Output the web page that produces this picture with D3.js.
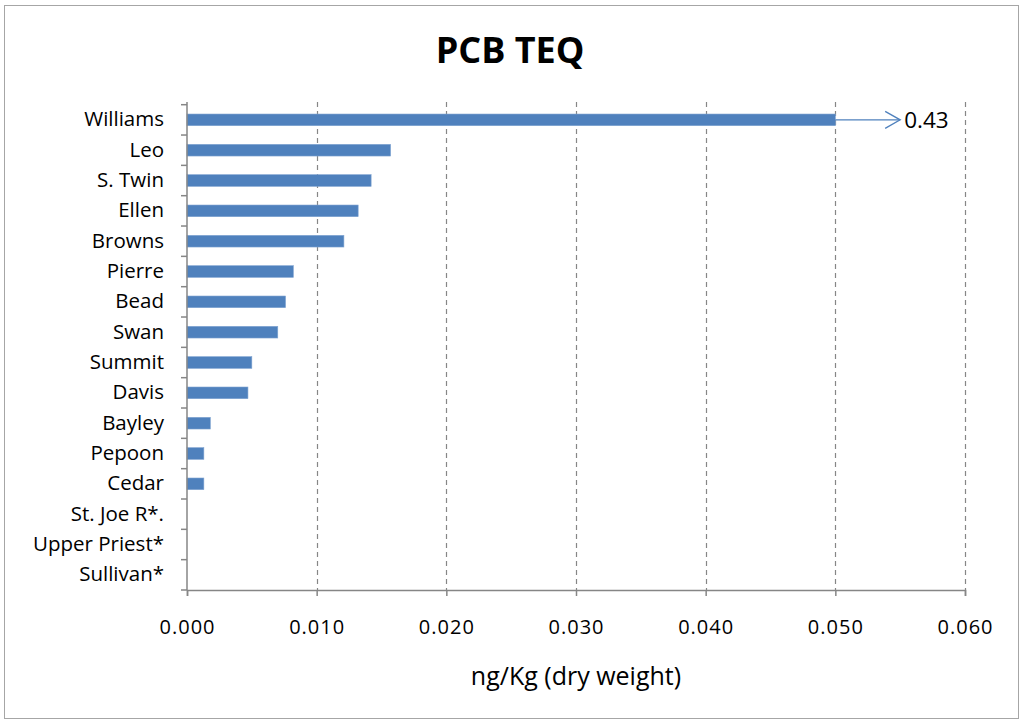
<!DOCTYPE html>
<html>
<head>
<meta charset="utf-8">
<script src="https://cdn.jsdelivr.net/npm/d3@7"></script>
<style>
  html, body { margin: 0; padding: 0; background: #fff; }
  svg { display: block; font-family: "Open Sans", sans-serif; }
</style>
</head>
<body>
<svg id="chart" width="1024" height="722"></svg>
<script>
const categories = ["Williams","Leo","S. Twin","Ellen","Browns","Pierre","Bead","Swan","Summit","Davis","Bayley","Pepoon","Cedar","St. Joe R*.","Upper Priest*","Sullivan*"];
const values = [0.43, 0.0157, 0.0142, 0.0132, 0.0121, 0.0082, 0.0076, 0.0070, 0.0050, 0.0047, 0.0018, 0.0013, 0.0013, 0, 0, 0];
const xTicks = [0, 0.01, 0.02, 0.03, 0.04, 0.05, 0.06];
const barCap = 0.05;          // bars beyond this are broken with an arrow
const arrowEnd = 0.055;
const chartTitle = "PCB TEQ";
const xTitle = "ng/Kg (dry weight)";

const svg = d3.select("#chart");
const margin = {left: 187, right: 1024 - 965, top: 104.7, bottom: 722 - 590};
const W = 1024, H = 722;

// outer border
svg.append("rect").attr("x", 4.5).attr("y", 5.5).attr("width", 1014).attr("height", 713)
  .attr("fill", "#fff").attr("stroke", "#a6a6a6").attr("stroke-width", 1);

const x = d3.scaleLinear().domain([0, 0.06]).range([margin.left, W - margin.right]);
const y = d3.scaleBand().domain(categories).range([margin.top, H - margin.bottom]).padding(0);
const barH = y.bandwidth() * 0.385;

// gridlines
svg.append("g").selectAll("line").data(xTicks.filter(d => d > 0)).join("line")
  .attr("x1", d => Math.round(x(d)) + 0.5).attr("x2", d => Math.round(x(d)) + 0.5)
  .attr("y1", 102).attr("y2", H - margin.bottom)
  .attr("stroke", "#868686").attr("stroke-width", 1.2).attr("stroke-dasharray", "5,4");

// bars
const fmt = d3.format(".3f");
svg.append("g").selectAll("rect").data(categories.map((c, i) => ({c, v: values[i]}))).join("rect")
  .filter(d => d.v > 0)
  .attr("x", x(0))
  .attr("y", d => y(d.c) + (y.bandwidth() - barH) / 2)
  .attr("width", d => x(Math.min(d.v, barCap)) - x(0))
  .attr("height", barH)
  .attr("fill", "#4F81BD").attr("stroke", "#7FA3D1").attr("stroke-width", 0.6);

// break arrow for values beyond cap
const over = categories.map((c, i) => ({c, v: values[i]})).filter(d => d.v > barCap);
const ag = svg.append("g");
over.forEach(d => {
  const cy = y(d.c) + y.bandwidth() / 2;
  const x0 = x(barCap), x1 = x(arrowEnd);
  ag.append("line").attr("x1", x0).attr("x2", x1).attr("y1", cy).attr("y2", cy)
    .attr("stroke", "#4F81BD").attr("stroke-width", 1.3);
  ag.append("path").attr("d", `M${x1 - 15},${cy - 8.5}L${x1},${cy}L${x1 - 15},${cy + 8.5}`)
    .attr("fill", "none").attr("stroke", "#4F81BD").attr("stroke-width", 1.3);
  ag.append("text").attr("x", x1 + 4).attr("y", cy + 8).attr("font-size", 22.5)
    .attr("fill", "#000").text(d3.format(".2f")(d.v));
});

// y axis
const yAxis = svg.append("g").attr("transform", `translate(${x(0)},0)`)
  .call(d3.axisLeft(y).tickSize(0).tickPadding(23));
yAxis.select(".domain").remove();
yAxis.selectAll("text").attr("font-size", 20.5).attr("fill", "#000").attr("font-family", "Open Sans");
svg.append("line").attr("x1", x(0)).attr("x2", x(0)).attr("y1", 102).attr("y2", H - margin.bottom)
  .attr("stroke", "#868686").attr("stroke-width", 1.5);
const bounds = categories.map(c => y(c)).concat([y.range()[1]]);
svg.append("g").selectAll("line").data(bounds).join("line")
  .attr("x1", x(0) - 6).attr("x2", x(0)).attr("y1", d => d).attr("y2", d => d)
  .attr("stroke", "#868686").attr("stroke-width", 1.5);

// x axis
const xAxis = svg.append("g").attr("transform", `translate(0,${H - margin.bottom})`)
  .call(d3.axisBottom(x).tickValues(xTicks).tickSize(6).tickPadding(24).tickFormat(fmt));
xAxis.select(".domain").attr("stroke", "#868686").attr("stroke-width", 1.5);
xAxis.selectAll(".tick line").attr("stroke", "#868686").attr("stroke-width", 1.5);
xAxis.selectAll("text").attr("font-size", 20).attr("letter-spacing", 1).attr("fill", "#000").attr("font-family", "Open Sans");

// titles
svg.append("text").attr("x", 510).attr("y", 63).attr("text-anchor", "middle")
  .attr("font-size", 36).attr("font-weight", "bold").attr("fill", "#000").text(chartTitle);
svg.append("text").attr("x", (x(0) + x(0.06)) / 2).attr("y", 685).attr("text-anchor", "middle")
  .attr("font-size", 25).attr("fill", "#000").text(xTitle);
</script>
</body>
</html>
